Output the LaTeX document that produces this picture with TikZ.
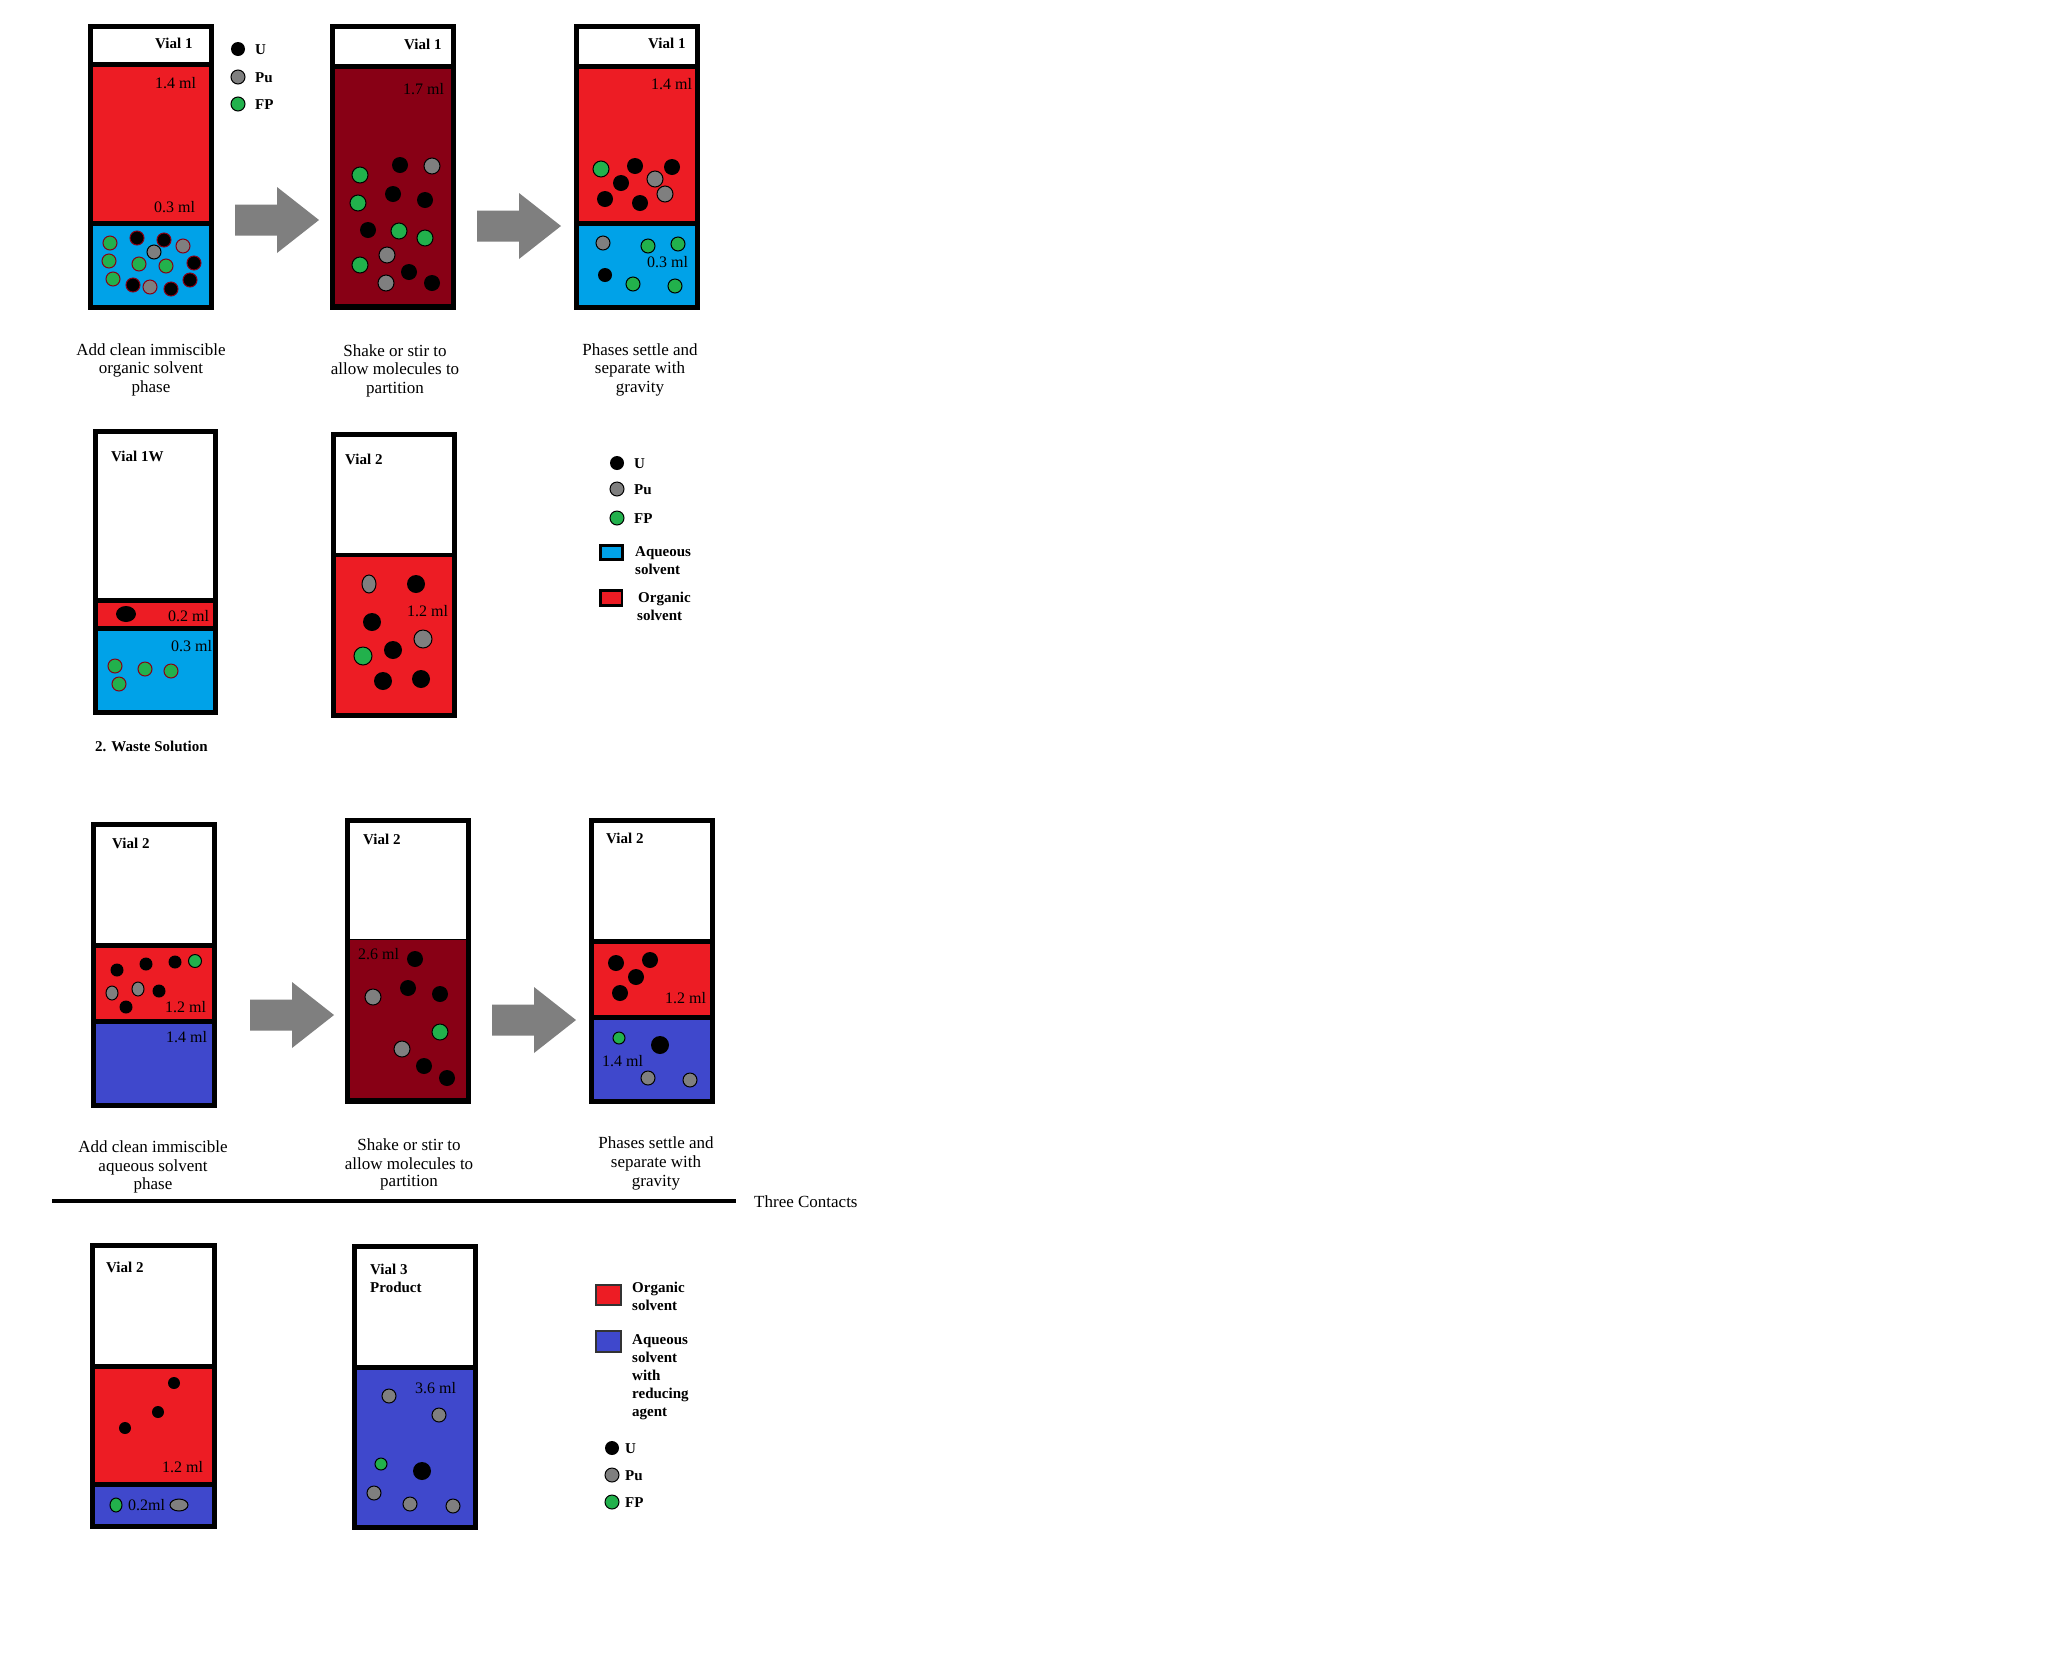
\documentclass[tikz,border=0pt]{standalone}
\usepackage{fontspec}
\setmainfont{Liberation Serif}
\definecolor{pred}{HTML}{ED1C24}
\definecolor{paqua}{HTML}{00A2E8}
\definecolor{pdark}{HTML}{880015}
\definecolor{pindigo}{HTML}{3F48CC}
\definecolor{pgreen}{HTML}{22B14C}
\definecolor{pgray}{HTML}{7F7F7F}
\newcommand{\vialouter}[4]{\fill[black] (#1,#2) rectangle (#3,#4);}
\newcommand{\layer}[5]{\fill[#5] (#1,#2) rectangle (#3,#4);}
\newcommand{\blockarr}[2]{\fill[pgray] (#1,#2-15.5) -- (#1+42,#2-15.5) -- (#1+42,#2-33) -- (#1+84,#2) -- (#1+42,#2+33) -- (#1+42,#2+15.5) -- (#1,#2+15.5) -- cycle;}
\begin{document}
\begin{tikzpicture}[x=1pt,y=-1pt,
 lbl/.style={anchor=base west, inner sep=0pt, font=\fontsize{15}{18}\selectfont\bfseries},
 vol/.style={anchor=base west, inner sep=0pt, font=\fontsize{16}{18}\selectfont},
 captxt/.style={anchor=base, inner sep=0pt, font=\fontsize{17}{18}\selectfont},
 leg/.style={anchor=base west, inner sep=0pt, font=\fontsize{15}{18}\selectfont\bfseries},
 U/.style={fill=black},
 Pu/.style={fill=pgray, draw=black, line width=1},
 FP/.style={fill=pgreen, draw=black, line width=1},
 Ur/.style={fill=black, draw=pdark, line width=1},
 Pur/.style={fill=pgray, draw=pdark, line width=1},
 FPr/.style={fill=pgreen, draw=pdark, line width=1},
]
\fill[white] (0,0) rectangle (2056,1674);
\useasboundingbox (0,0) rectangle (2056,1674);

% ---------------- Row 1 ----------------
% Vial 1a
\vialouter{88}{24}{214}{310}
\layer{93}{29}{209}{62}{white}
\layer{93}{67}{209}{221}{pred}
\layer{93}{226}{209}{305}{paqua}
\node[lbl] (v1a) at (155,48) {Vial 1};
\node[vol] (v1av1) at (155,88) {1.4 ml};
\node[vol] (v1av2) at (154,212) {0.3 ml};
\foreach \x/\y/\s in {110/243/FPr,137/238/Ur,164/240/Ur,183/246/Pur,154/252/Pu,109/261/FPr,139/264/FPr,166/266/FPr,194/263/Ur,113/279/FPr,133/285/Ur,150/287/Pur,171/289/Ur,190/280/Ur}
  \path[\s] (\x,\y) circle (7);
% legend 1
\path[U] (238,49) circle (7);
\path[Pu] (238,77) circle (7);
\path[FP] (238,104) circle (7);
\node[leg] (l1u) at (255,54) {U};
\node[leg] (l1pu) at (255,82) {Pu};
\node[leg] (l1fp) at (255,109) {FP};

\blockarr{235}{220}

% Vial 1b
\vialouter{330}{24}{456}{310}
\layer{335}{29}{451}{64}{white}
\layer{335}{69}{451}{304}{pdark}
\node[lbl] (v1b) at (404,49) {Vial 1};
\node[vol] (v1bv) at (403,94) {1.7 ml};
\foreach \x/\y/\s in {360/175/FP,400/165/U,432/166/Pu,358/203/FP,393/194/U,425/200/U,368/230/U,399/231/FP,425/238/FP,387/255/Pu,360/265/FP,409/272/U,386/283/Pu,432/283/U}
  \path[\s] (\x,\y) circle (8);

\blockarr{477}{226}

% Vial 1c
\vialouter{574}{24}{700}{310}
\layer{579}{29}{695}{64}{white}
\layer{579}{69}{695}{221}{pred}
\layer{579}{226}{695}{305}{paqua}
\node[lbl] (v1c) at (648,48) {Vial 1};
\node[vol] (v1cv1) at (651,89) {1.4 ml};
\node[vol] (v1cv2) at (647,267) {0.3 ml};
\foreach \x/\y/\s in {601/169/FP,635/166/U,672/167/U,621/183/U,655/179/Pu,605/199/U,640/203/U,665/194/Pu}
  \path[\s] (\x,\y) circle (8);
\foreach \x/\y/\s in {603/243/Pu,648/246/FP,678/244/FP,605/275/U,633/284/FP,675/286/FP}
  \path[\s] (\x,\y) circle (7);

% captions row 1
\node[captxt] (c1a) at (151,355) {Add clean immiscible};
\node[captxt] (c1b) at (151,373) {organic solvent};
\node[captxt] (c1c) at (151,392) {phase};
\node[captxt] (c2a) at (395,356) {Shake or stir to};
\node[captxt] (c2b) at (395,374) {allow molecules to};
\node[captxt] (c2c) at (395,393) {partition};
\node[captxt] (c3a) at (640,355) {Phases settle and};
\node[captxt] (c3b) at (640,373) {separate with};
\node[captxt] (c3c) at (640,392) {gravity};

% ---------------- Row 2 ----------------
\vialouter{93}{429}{218}{715}
\layer{98}{434}{213}{598}{white}
\layer{98}{603}{213}{626}{pred}
\layer{98}{631}{213}{710}{paqua}
\node[lbl] (v1w) at (111,461) {Vial 1W};
\node[vol] (v1wv1) at (168,621) {0.2 ml};
\node[vol] (v1wv2) at (171,651) {0.3 ml};
\path[U] (126,614) ellipse (10 and 8);
\foreach \x/\y in {115/666,145/669,171/671,119/684}
  \path[FPr] (\x,\y) circle (7);
\node[lbl] (waste) at (95,751) {2. Waste Solution};

\vialouter{331}{432}{457}{718}
\layer{336}{437}{452}{553}{white}
\layer{336}{557}{452}{713}{pred}
\node[lbl] (v2a) at (345,464) {Vial 2};
\node[vol] (v2av) at (407,616) {1.2 ml};
\path[Pu] (369,584) ellipse (7 and 9);
\foreach \x/\y/\s in {416/584/U,372/622/U,423/639/Pu,393/650/U,363/656/FP,383/681/U,421/679/U}
  \path[\s] (\x,\y) circle (9);

% legend 2
\path[U] (617,463) circle (7);
\path[Pu] (617,489) circle (7);
\path[FP] (617,518) circle (7);
\node[leg] (l2u) at (634,468) {U};
\node[leg] (l2pu) at (634,494) {Pu};
\node[leg] (l2fp) at (634,523) {FP};
\draw[fill=paqua, line width=2.5] (600.5,545.5) rectangle (622.5,559.5);
\node[leg] (l2aq) at (635,556) {Aqueous};
\node[leg] (l2aqs) at (635,574) {solvent};
\draw[fill=pred, line width=2.5] (600.5,590.5) rectangle (622,605.5);
\node[leg] (l2or) at (638,602) {Organic};
\node[leg] (l2ors) at (637,620) {solvent};

% ---------------- Row 3 ----------------
\vialouter{91}{822}{217}{1108}
\layer{96}{827}{212}{943}{white}
\layer{96}{948}{212}{1019}{pred}
\layer{96}{1024}{212}{1103}{pindigo}
\node[lbl] (v2b) at (112,848) {Vial 2};
\node[vol] (v2bv1) at (165,1012) {1.2 ml};
\node[vol] (v2bv2) at (166,1042) {1.4 ml};
\foreach \x/\y/\s in {117/970/U,146/964/U,175/962/U,195/961/FP,159/991/U,126/1007/U}
  \path[\s] (\x,\y) circle (6.5);
\path[Pu] (112,993) ellipse (6 and 7);
\path[Pu] (138,989) ellipse (6 and 7);

\blockarr{250}{1015}

\vialouter{345}{818}{471}{1104}
\layer{350}{823}{466}{939}{white}
\layer{350}{940}{466}{1098}{pdark}
\node[lbl] (v2c) at (363,844) {Vial 2};
\node[vol] (v2cv) at (358,959) {2.6 ml};
\foreach \x/\y/\s in {415/959/U,408/988/U,440/994/U,373/997/Pu,440/1032/FP,402/1049/Pu,424/1066/U,447/1078/U}
  \path[\s] (\x,\y) circle (8);

\blockarr{492}{1020}

\vialouter{589}{818}{715}{1104}
\layer{594}{823}{710}{939}{white}
\layer{594}{944}{710}{1015}{pred}
\layer{594}{1020}{710}{1099}{pindigo}
\node[lbl] (v2d) at (606,843) {Vial 2};
\node[vol] (v2dv1) at (665,1003) {1.2 ml};
\node[vol] (v2dv2) at (602,1066) {1.4 ml};
\foreach \x/\y in {616/963,650/960,636/977,620/993}
  \path[U] (\x,\y) circle (8);
\path[FP] (619,1038) circle (6);
\path[U] (660,1045) circle (9);
\path[Pu] (648,1078) circle (7);
\path[Pu] (690,1080) circle (7);

% captions row 3
\node[captxt] (d1a) at (153,1152) {Add clean immiscible};
\node[captxt] (d1b) at (153,1171) {aqueous solvent};
\node[captxt] (d1c) at (153,1189) {phase};
\node[captxt] (d2a) at (409,1150) {Shake or stir to};
\node[captxt] (d2b) at (409,1169) {allow molecules to};
\node[captxt] (d2c) at (409,1186) {partition};
\node[captxt] (d3a) at (656,1148) {Phases settle and};
\node[captxt] (d3b) at (656,1167) {separate with};
\node[captxt] (d3c) at (656,1186) {gravity};

\coordinate (hl1) at (52,1201);
\coordinate (hl2) at (736,1201);
\draw[line width=4] (hl1) -- (hl2);
\node[captxt, anchor=base west] (three) at (754,1207) {Three Contacts};

% ---------------- Row 4 ----------------
\vialouter{90}{1243}{217}{1529}
\layer{95}{1248}{212}{1364}{white}
\layer{95}{1369}{212}{1482}{pred}
\layer{95}{1487}{212}{1524}{pindigo}
\node[lbl] (v2e) at (106,1272) {Vial 2};
\node[vol] (v2ev1) at (162,1472) {1.2 ml};
\foreach \x/\y in {174/1383,158/1412,125/1428}
  \path[U] (\x,\y) circle (6);
\path[FP] (116,1505) ellipse (6 and 7);
\path[Pu] (179,1505) ellipse (9 and 6);
\node[vol] (v2ev2) at (128,1510) {0.2ml};

\vialouter{352}{1244}{478}{1530}
\layer{357}{1249}{473}{1365}{white}
\layer{357}{1370}{473}{1525}{pindigo}
\node[lbl] (v3) at (370,1274) {Vial 3};
\node[lbl] (v3p) at (370,1292) {Product};
\node[vol] (v3v) at (415,1393) {3.6 ml};
\foreach \x/\y in {389/1396,439/1415,374/1493,410/1504,453/1506}
  \path[Pu] (\x,\y) circle (7);
\path[FP] (381,1464) circle (6);
\path[U] (422,1471) circle (9);

% legend 3
\draw[fill=pred, line width=1.2, draw=black!80] (596,1285) rectangle (621,1305);
\node[leg] (l3or) at (632,1292) {Organic};
\node[leg] (l3ors) at (632,1310) {solvent};
\draw[fill=pindigo, line width=1.2, draw=black!80] (596,1331) rectangle (621,1352);
\node[leg] (l3aq) at (632,1344) {Aqueous};
\node[leg] (l3aq2) at (632,1362) {solvent};
\node[leg] (l3aq3) at (632,1380) {with};
\node[leg] (l3aq4) at (632,1398) {reducing};
\node[leg] (l3aq5) at (632,1416) {agent};
\path[U] (612,1448) circle (7);
\path[Pu] (612,1475) circle (7);
\path[FP] (612,1502) circle (7);
\node[leg] (l3u) at (625,1453) {U};
\node[leg] (l3pu) at (625,1480) {Pu};
\node[leg] (l3fp) at (625,1507) {FP};
\end{tikzpicture}
\end{document}
